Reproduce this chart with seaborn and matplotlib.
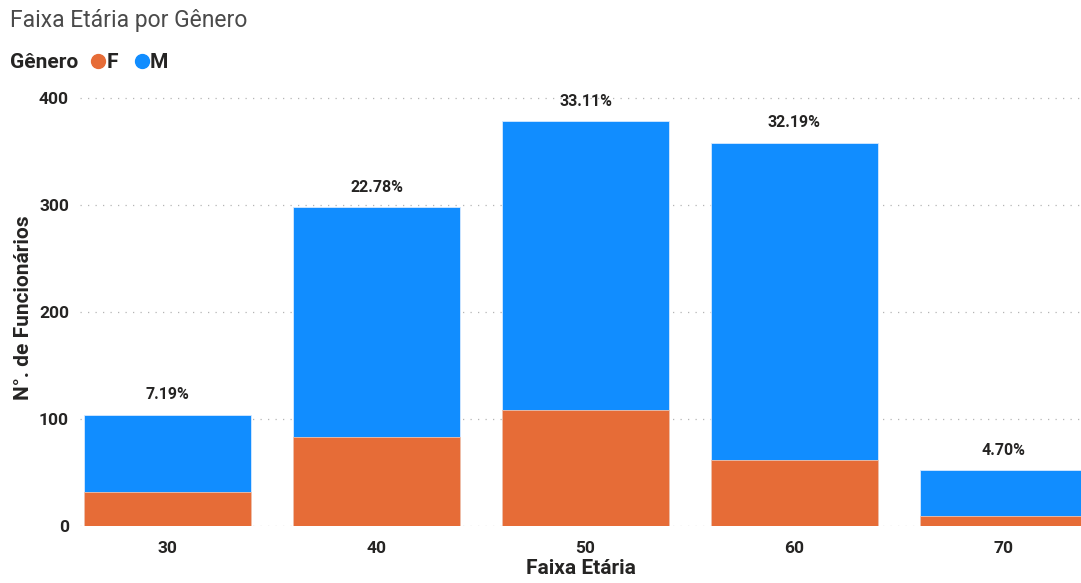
import matplotlib
matplotlib.use("Agg")
import matplotlib.pyplot as plt
from matplotlib.lines import Line2D
import seaborn as sns
import pandas as pd

# Age bands and headcount per gender
faixas = ["30", "40", "50", "60", "70"]
feminino = [32, 83, 108, 62, 9]
masculino = [72, 215, 270, 296, 43]
percentuais = ["7.19%", "22.78%", "33.11%", "32.19%", "4.70%"]

COR_F = "#E66C37"
COR_M = "#118DFF"

sns.set_theme(style="white")
plt.rcParams["font.family"] = ["Roboto", "DejaVu Sans"]

df = pd.DataFrame({
    "Faixa": faixas,
    "F": feminino,
    "M": masculino,
})
df["Total"] = df["F"] + df["M"]

fig = plt.figure(figsize=(10.81, 5.83), dpi=100)
ax = fig.add_axes([0.074, 0.0978, 0.926, 0.748])

# Stacked columns: full height in blue, female share drawn over it
sns.barplot(data=df, x="Faixa", y="Total", color=COR_M, width=0.8,
            saturation=1, edgecolor="#d6e9ff", linewidth=0.6, ax=ax)
sns.barplot(data=df, x="Faixa", y="F", color=COR_F, width=0.8,
            saturation=1, edgecolor="#f3c2ab", linewidth=0.6, ax=ax)

ax.set_xlim(-0.419, 4.371)
ax.set_ylim(0, 407.5)
ax.set_yticks([0, 100, 200, 300, 400])
ax.yaxis.grid(True, linestyle=(0, (1, 5)), color="#b5b5b5", linewidth=0.9)
ax.set_axisbelow(True)
for s in ax.spines.values():
    s.set_visible(False)
ax.tick_params(axis="y", length=0, labelsize=12.5, labelcolor="#252423", pad=8)
ax.tick_params(axis="x", length=0, labelsize=12.5, labelcolor="#252423", pad=11)
for lbl in ax.get_xticklabels() + ax.get_yticklabels():
    lbl.set_fontweight("bold")

ax.set_xlabel("Faixa Etária", fontsize=15, fontweight="bold", color="#252423", labelpad=2)
ax.set_ylabel("N°. de Funcionários", fontsize=15, fontweight="bold", color="#252423", labelpad=4)

# Share labels above each column
for i, (tot, txt) in enumerate(zip(df["Total"], percentuais)):
    ax.annotate(txt, (i, tot), xytext=(0, 9), textcoords="offset points",
                ha="center", va="bottom", fontsize=11.5, fontweight="bold",
                color="#252423", annotation_clip=False)

fig.text(0.009, 0.965, "Faixa Etária por Gênero", fontsize=16.5, color="#4a4a4a",
         ha="left", va="center")
fig.text(0.009, 0.892, "Gênero", fontsize=15, fontweight="bold", color="#252423",
         ha="left", va="center")

handles = [
    Line2D([], [], marker="o", linestyle="none", markersize=10, color=COR_F),
    Line2D([], [], marker="o", linestyle="none", markersize=10, color=COR_M),
]
leg = fig.legend(handles, ["F", "M"], loc="center left", bbox_to_anchor=(0.081, 0.892),
                 ncol=2, frameon=False, handletextpad=-0.1, columnspacing=0.65,
                 handlelength=1.0, borderaxespad=0, borderpad=0,
                 prop={"weight": "bold", "size": 15})
for t in leg.get_texts():
    t.set_color("#252423")

fig.savefig("out.png", dpi=100, facecolor="white")
